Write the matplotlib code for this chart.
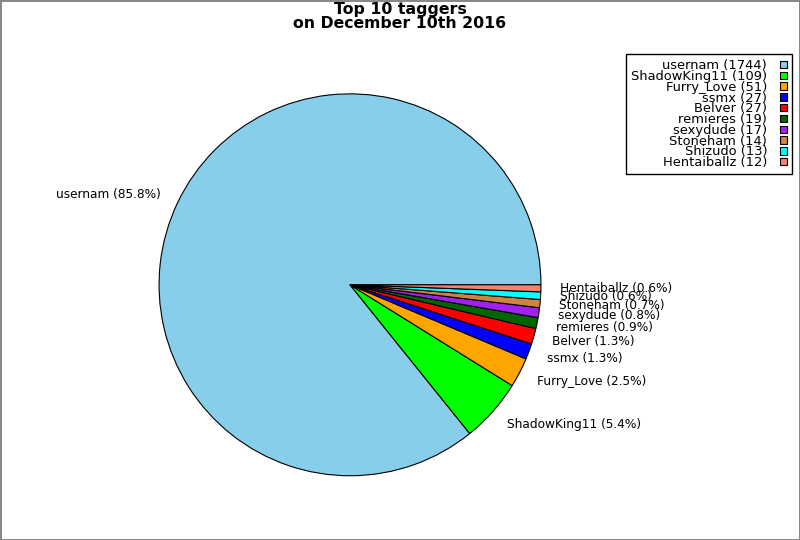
import matplotlib
matplotlib.use('Agg')
import matplotlib.pyplot as plt
from matplotlib.patches import Patch

# ─── Data ───
users = ["usernam", "ShadowKing11", "Furry_Love", "ssmx", "Belver",
         "remieres", "sexydude", "Stoneham", "Shizudo", "Hentaiballz"]
counts = [1744, 109, 51, 27, 27, 19, 17, 14, 13, 12]
colors = ["#87CEEB", "#00FF00", "#FFA500", "#0000FF", "#FF0000",
          "#006400", "#A020F0", "#CD853F", "#00FFFF", "#FA8072"]

total = sum(counts)
pie_labels = [f"{u} ({c / total * 100:.1f}%)" for u, c in zip(users, counts)]
legend_labels = [f"{u} ({c})" for u, c in zip(users, counts)]

fig = plt.figure(figsize=(8, 5.4), dpi=100)
fig.patch.set_edgecolor('#888888')
fig.patch.set_linewidth(2)

ax = fig.add_axes([0.139, 0.0306, 0.597, 0.884])
ax.pie(counts, labels=pie_labels, colors=colors, startangle=0,
       wedgeprops=dict(edgecolor='black', linewidth=0.8),
       textprops=dict(fontsize=8.7))
ax.set_aspect('equal')

fig.text(0.5, 0.997, "Top 10 taggers\non December 10th 2016",
         ha='center', va='top', fontsize=11.3, fontweight='bold',
         linespacing=0.92)

handles = [Patch(facecolor=c, edgecolor='black', linewidth=0.8) for c in colors]
leg = fig.legend(handles, legend_labels, loc='upper right',
                 bbox_to_anchor=(0.99, 0.9), borderaxespad=0,
                 markerfirst=False, fontsize=9.4, labelspacing=-0.17,
                 handlelength=0.5, handleheight=0.5, handletextpad=1.0,
                 borderpad=0.4, fancybox=False, framealpha=1,
                 edgecolor='black')
leg.get_frame().set_linewidth(1)
for t in leg.get_texts():
    t.set_ha('right')

fig.savefig('out.png', dpi=100, edgecolor=fig.get_edgecolor())
